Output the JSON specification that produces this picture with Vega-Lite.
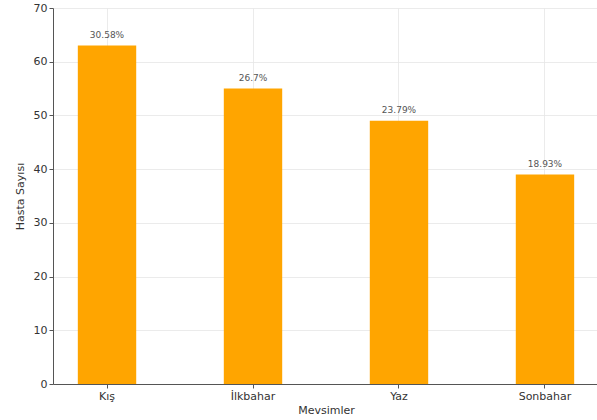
{
  "$schema": "https://vega.github.io/schema/vega-lite/v6.json",
  "autosize": "none",
  "width": 546,
  "height": 376,
  "padding": {"left": 53, "top": 8, "right": 0, "bottom": 36},
  "background": "white",
  "config": {
    "view": {"stroke": null},
    "font": "DejaVu Sans",
    "axis": {
      "labelFont": "DejaVu Sans",
      "titleFont": "DejaVu Sans",
      "labelFontSize": 11,
      "titleFontSize": 11,
      "labelColor": "#333333",
      "titleColor": "#333333",
      "titleFontWeight": "normal",
      "domainColor": "#555555",
      "tickColor": "#555555",
      "tickSize": 4,
      "gridColor": "#e6e6e6",
      "gridWidth": 0.8
    }
  },
  "data": {
    "values": [
      {"mevsim": "Kış", "sayi": 63, "yuzde": "30.58%"},
      {"mevsim": "İlkbahar", "sayi": 55, "yuzde": "26.7%"},
      {"mevsim": "Yaz", "sayi": 49, "yuzde": "23.79%"},
      {"mevsim": "Sonbahar", "sayi": 39, "yuzde": "18.93%"}
    ]
  },
  "encoding": {
    "x": {
      "field": "mevsim",
      "type": "nominal",
      "sort": null,
      "scale": {"paddingInner": 0.6, "paddingOuter": 0.17},
      "axis": {"title": "Mevsimler", "labelAngle": 0, "grid": true, "labelPadding": 2, "titlePadding": 3}
    },
    "y": {
      "field": "sayi",
      "type": "quantitative",
      "scale": {"domain": [0, 70], "nice": false},
      "axis": {"title": "Hasta Sayısı", "values": [0, 10, 20, 30, 40, 50, 60, 70], "grid": true, "labelPadding": 2, "titlePadding": 8}
    }
  },
  "layer": [
    {"mark": {"type": "bar", "color": "#FFA500"}},
    {
      "mark": {"type": "text", "dy": -6, "baseline": "bottom", "fontSize": 9, "color": "#555555"},
      "encoding": {"text": {"field": "yuzde"}}
    }
  ]
}
